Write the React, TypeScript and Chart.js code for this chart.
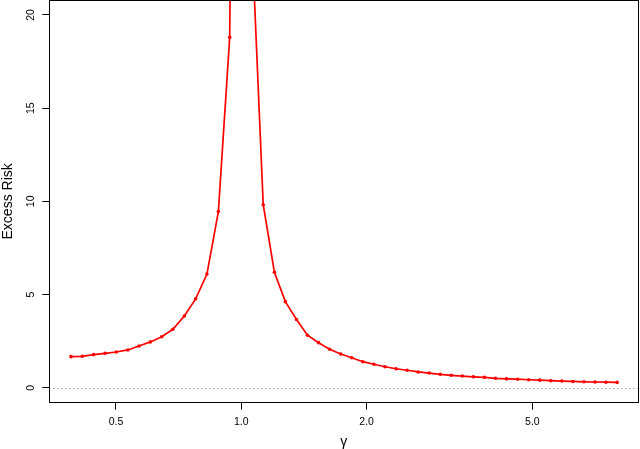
import React, { useEffect, useRef } from "react";
import { Chart, registerables } from "chart.js";

Chart.register(...registerables);

// gamma values (x, log scale)
const gammaValues: number[] = [
  0.390, 0.415, 0.442, 0.471, 0.501, 0.534, 0.568, 0.605, 0.644, 0.685,
  0.730, 0.777, 0.827, 0.881, 0.938, 0.998, 1.063,
  1.129, 1.201, 1.276, 1.357, 1.442, 1.533, 1.630, 1.733, 1.842, 1.958,
  2.082, 2.213, 2.353, 2.501, 2.659, 2.826, 3.004, 3.194, 3.395, 3.609,
  3.837, 4.079, 4.336, 4.609, 4.899, 5.208, 5.537, 5.885, 6.256, 6.651,
  7.071, 7.515, 7.989,
];

// excess risk values
const excessRisk: number[] = [
  1.67, 1.69, 1.78, 1.85, 1.92, 2.03, 2.24, 2.46, 2.74, 3.14,
  3.85, 4.77, 6.10, 9.45, 18.8, 90, 23.5,
  9.82, 6.20, 4.62, 3.66, 2.82, 2.42, 2.07, 1.81, 1.61, 1.40,
  1.26, 1.13, 1.02, 0.94, 0.85, 0.79, 0.72, 0.67, 0.63, 0.59,
  0.56, 0.51, 0.48, 0.46, 0.43, 0.41, 0.38, 0.36, 0.34, 0.32,
  0.31, 0.30, 0.29,
];

const xTicks: number[] = [0.5, 1.0, 2.0, 5.0];
const yTicks: number[] = [0, 5, 10, 15, 20];
const xRange: number[] = [0.3459, 8.983];
const yRange: number[] = [-0.8, 20.8];
const referenceLevel = 0;

const zeroPadding = (s: any) => {
  s.paddingTop = 0;
  s.paddingBottom = 0;
  s.paddingLeft = 0;
  s.paddingRight = 0;
};

const boxPlugin = {
  id: "rbox",
  beforeDatasetsDraw(chart: any) {
    const { ctx, chartArea, scales } = chart;
    const y = Math.round(scales.y.getPixelForValue(referenceLevel)) + 0.5;
    ctx.save();
    ctx.strokeStyle = "#777777";
    ctx.lineWidth = 1;
    ctx.setLineDash([1, 3]);
    ctx.beginPath();
    ctx.moveTo(chartArea.left, y);
    ctx.lineTo(chartArea.right, y);
    ctx.stroke();
    ctx.restore();
  },
  afterDraw(chart: any) {
    const { ctx, chartArea } = chart;
    ctx.save();
    ctx.strokeStyle = "#000000";
    ctx.lineWidth = 1;
    const l = Math.floor(chartArea.left) + 0.5;
    const t = Math.floor(chartArea.top) + 0.5;
    const r = Math.floor(chartArea.right) + 0.5;
    const b = Math.floor(chartArea.bottom) + 0.5;
    ctx.strokeRect(l, t, r - l, b - t);
    ctx.restore();
  },
};

export default function App() {
  const canvasRef = useRef<HTMLCanvasElement | null>(null);

  useEffect(() => {
    if (!canvasRef.current) return;
    Chart.defaults.font.family = "'Liberation Sans', Arial, sans-serif";
    const chart = new Chart(canvasRef.current, {
      type: "line",
      data: {
        datasets: [
          {
            data: gammaValues.map((g, i) => ({ x: g, y: excessRisk[i] })),
            borderColor: "#ff0000",
            backgroundColor: "#ff0000",
            borderWidth: 1.7,
            pointRadius: 1.8,
            pointBorderWidth: 0,
            pointBackgroundColor: "#ff0000",
            tension: 0,
            fill: false,
          },
        ],
      },
      options: {
        animation: false,
        responsive: false,
        events: [],
        layout: { autoPadding: false, padding: { left: 0, right: 1.7, top: 0, bottom: 0 } },
        plugins: {
          legend: { display: false },
          tooltip: { enabled: false },
        },
        scales: {
          x: {
            type: "logarithmic",
            bounds: "data",
            min: xRange[0],
            max: xRange[1],
            afterBuildTicks: (s: any) => {
              s.ticks = xTicks.map((v) => ({ value: v }));
            },
            afterFit: (s: any) => {
              s.height = 46.3;
              zeroPadding(s);
            },
            ticks: {
              callback: (v: any) => Number(v).toFixed(1),
              font: { size: 10.5 },
              color: "#000",
              padding: 6,
              maxRotation: 0,
              minRotation: 0,
              autoSkip: false,
            },
            grid: {
              drawOnChartArea: false,
              drawTicks: true,
              tickLength: 7,
              tickColor: "#000",
              tickWidth: 1,
            },
            border: { display: true, color: "#000", width: 1 },
            title: {
              display: true,
              text: "γ",
              color: "#000",
              font: { size: 14, lineHeight: 1 },
              padding: { top: 0, bottom: 0 },
            },
          },
          y: {
            type: "linear",
            bounds: "data",
            min: yRange[0],
            max: yRange[1],
            afterBuildTicks: (s: any) => {
              s.ticks = yTicks.map((v) => ({ value: v }));
            },
            afterFit: (s: any) => {
              s.width = 49.3;
              zeroPadding(s);
            },
            ticks: {
              font: { size: 10.5 },
              color: "#000",
              padding: 5,
              minRotation: 90,
              maxRotation: 90,
              crossAlign: "center",
              autoSkip: false,
            },
            grid: {
              drawOnChartArea: false,
              drawTicks: true,
              tickLength: 7,
              tickColor: "#000",
              tickWidth: 1,
            },
            border: { display: true, color: "#000", width: 1 },
            title: {
              display: true,
              text: "Excess Risk",
              color: "#000",
              font: { size: 14, lineHeight: 1 },
              padding: { top: 1, bottom: 0 },
            },
          },
        },
      } as any,
      plugins: [boxPlugin],
    });
    return () => chart.destroy();
  }, []);

  return (
    <div style={{ position: "absolute", left: 0, top: 0, width: 640, height: 449, background: "#fff" }}>
      <canvas ref={canvasRef} width={640} height={449} style={{ display: "block", width: 640, height: 449 }} />
    </div>
  );
}
